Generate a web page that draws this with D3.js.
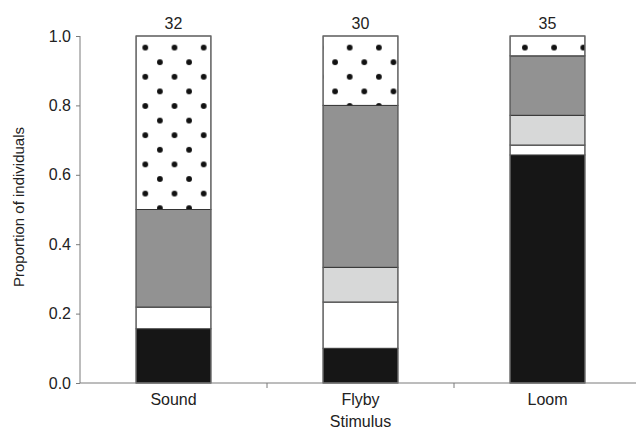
<!DOCTYPE html>
<html><head><meta charset="utf-8">
<script src="https://cdn.jsdelivr.net/npm/d3@7"></script>
<style>body{margin:0;background:#fff}svg{display:block;font-family:"Liberation Sans",Arial,sans-serif}</style>
</head><body>
<svg id="c" width="636" height="429"></svg>
<script>
const categories = ["Sound", "Flyby", "Loom"];
const totals = [32, 30, 35];
const blackCounts = [5, 3, 23];
const whiteCounts = [2, 4, 1];
const lightGrayCounts = [0, 3, 3];
const darkGrayCounts = [9, 14, 6];
const dottedCounts = [16, 6, 2];
const yTicks = [0, 0.2, 0.4, 0.6, 0.8, 1.0];
const seriesNames = ["black", "white", "light", "dark", "dotted"];
const seriesCounts = [blackCounts, whiteCounts, lightGrayCounts, darkGrayCounts, dottedCounts];
const fills = {black: "#161616", white: "#ffffff", light: "#d7d8d8", dark: "#929292", dotted: "url(#dots)"};

const svg = d3.select("#c");
const x = d3.scaleBand().domain(categories).range([80, 641]).paddingInner(0.6).paddingOuter(0.3);
const y = d3.scaleLinear().domain([0, 1]).range([383, 36]);

const defs = svg.append("defs");
const P = 29.2;
const pat = defs.append("pattern").attr("id", "dots").attr("patternUnits", "userSpaceOnUse")
  .attr("width", P).attr("height", P).attr("x", 145.3).attr("y", 47.6);
pat.append("rect").attr("width", P).attr("height", P).attr("fill", "#fff");
[[0,0],[P,0],[0,P],[P,P],[P/2,P/2]].forEach(([cx,cy]) =>
  pat.append("circle").attr("cx", cx).attr("cy", cy).attr("r", 2.9).attr("fill", "#111"));

const rows = categories.map((c, i) => {
  const o = {cat: c};
  seriesNames.forEach((s, k) => o[s] = seriesCounts[k][i] / totals[i]);
  return o;
});
const stack = d3.stack().keys(seriesNames)(rows);

const g = svg.append("g");
stack.forEach(layer => {
  g.selectAll(null).data(layer).join("rect")
    .attr("x", d => x(d.data.cat))
    .attr("width", x.bandwidth())
    .attr("y", d => y(d[1]))
    .attr("height", d => Math.max(0, y(d[0]) - y(d[1])))
    .attr("fill", fills[layer.key])
    .attr("stroke", "#333").attr("stroke-width", 1);
});
g.selectAll(null).data(categories).join("rect")
  .attr("x", d => x(d)).attr("width", x.bandwidth())
  .attr("y", y(1)).attr("height", y(0) - y(1))
  .attr("fill", "none").attr("stroke", "#6e6e6e").attr("stroke-width", 1);

svg.selectAll(null).data(categories).join("text")
  .attr("x", d => x(d) + x.bandwidth() / 2).attr("y", 28.5)
  .attr("text-anchor", "middle").attr("font-size", 16).attr("fill", "#222")
  .text((d, i) => totals[i]);

const ya = svg.append("g").attr("transform", "translate(80,0)")
  .call(d3.axisLeft(y).tickValues(yTicks).tickFormat(d3.format(".1f")).tickSize(4).tickPadding(5));
ya.selectAll("path,line").attr("stroke", "#7a7a7a");
ya.select(".domain").attr("d", "M0,36V383");
ya.selectAll("text").attr("font-size", 16).attr("fill", "#222").attr("font-family", "Liberation Sans, Arial, sans-serif");

const xa = svg.append("g").attr("transform", "translate(0,383)")
  .call(d3.axisBottom(x).tickSize(0).tickPadding(22));
xa.select(".domain").attr("d", "M80,0H636").attr("stroke", "#7a7a7a");
xa.selectAll("text").attr("font-size", 16).attr("fill", "#222").attr("font-family", "Liberation Sans, Arial, sans-serif").attr("dy", "0");
const bounds = categories.slice(0, -1).map(c => x(c) + x.bandwidth() + x.step() * x.paddingInner() / 2);
svg.selectAll(null).data(bounds).join("line")
  .attr("x1", d => d).attr("x2", d => d).attr("y1", 383).attr("y2", 388)
  .attr("stroke", "#7a7a7a");

svg.append("text").attr("x", 360.5).attr("y", 427).attr("text-anchor", "middle")
  .attr("font-size", 16).attr("fill", "#222").text("Stimulus");
svg.append("text").attr("transform", "translate(24,207) rotate(-90)").attr("text-anchor", "middle")
  .attr("font-size", 15).attr("fill", "#222").text("Proportion of individuals");
</script>
</body></html>
